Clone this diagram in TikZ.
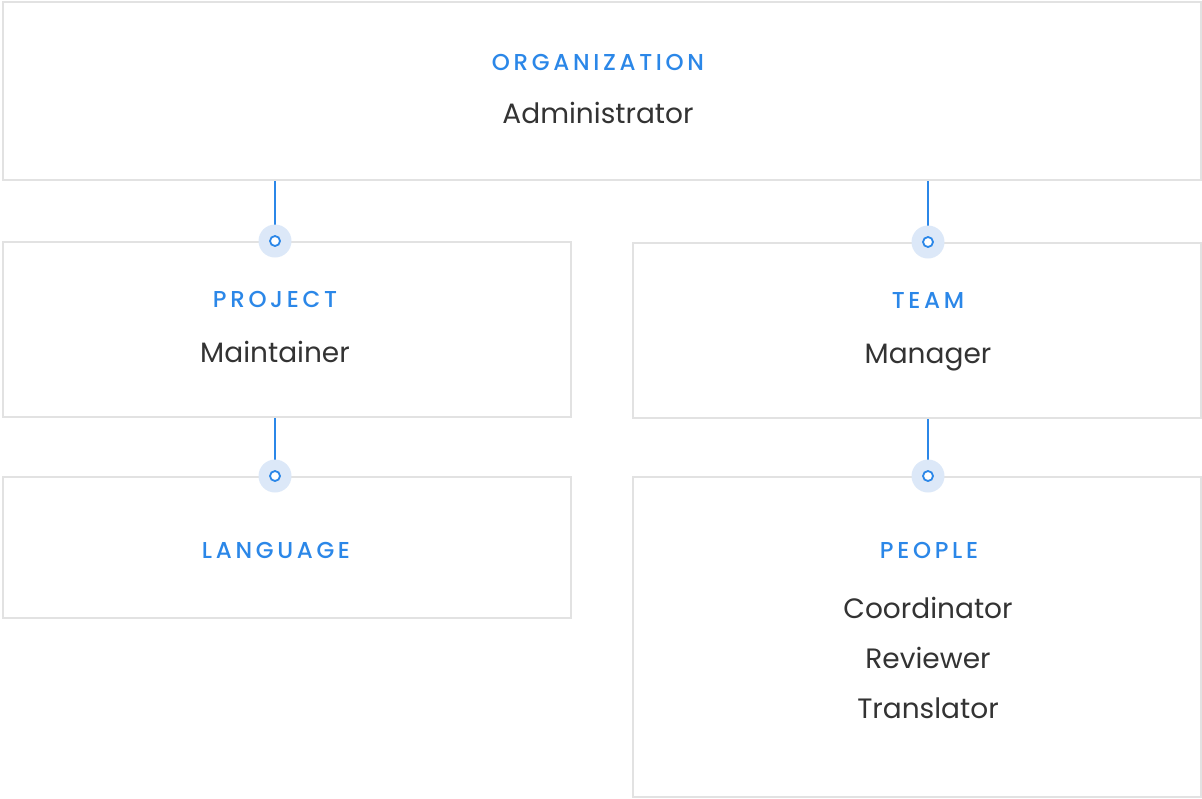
\documentclass[tikz,border=0pt]{standalone}
\usepackage{fontspec}
\setmainfont{Poppins}
\newfontfamily\capfont[LetterSpace=16]{Poppins Medium}
\definecolor{boxgray}{HTML}{E2E2E2}
\definecolor{blueline}{HTML}{2B87E8}
\definecolor{halo}{HTML}{DCE8F8}
\definecolor{txt}{HTML}{333333}
\begin{document}
\begin{tikzpicture}[x=1pt,y=-1pt,
  box/.style={draw=boxgray,line width=2pt,fill=white,anchor=north west,inner sep=0pt},
  title/.style={text=blueline,font=\capfont\fontsize{23}{26}\selectfont,inner sep=0pt,text height=16.1pt,text depth=0pt},
  role/.style={text=txt,font=\fontsize{28}{32}\selectfont,inner sep=0pt,text height=19.6pt,text depth=0pt},
  conn/.style={draw=blueline,line width=2.2pt},
  dothalo/.style={circle,fill=halo,minimum size=33pt,inner sep=0pt},
  dotin/.style={circle,draw=blueline,line width=1.8pt,fill=white,minimum size=10pt,inner sep=0pt}]
\useasboundingbox (0,0) rectangle (1202,798);
% boxes
\node[box,minimum width=1198pt,minimum height=178pt] (org) at (2,1) {};
\node[box,minimum width=568pt,minimum height=175pt] (proj) at (2,241) {};
\node[box,minimum width=568pt,minimum height=175pt] (team) at (632,242) {};
\node[box,minimum width=568pt,minimum height=141pt] (lang) at (2,476) {};
\node[box,minimum width=568pt,minimum height=320pt] (people) at (632,476) {};
% texts
\node[title] (orgt) at (598,62) {ORGANIZATION};
\node[role] (orgr) at (598,114) {Administrator};
\node[title] (projt) at (275,299) {PROJECT};
\node[role] (projr) at (275,353) {Maintainer};
\node[title] (teamt) at (928,300) {TEAM};
\node[role] (teamr) at (928,354) {Manager};
\node[title] (langt) at (276,550) {LANGUAGE};
\node[title] (peot) at (929,550) {PEOPLE};
\node[role] (peo1) at (928,609) {Coordinator};
\node[role] (peo2) at (928,659) {Reviewer};
\node[role] (peo3) at (928,709) {Translator};
% connector anchor points
\coordinate (c1) at (proj.north -| projt);
\coordinate (c2) at (team.north -| teamt);
\coordinate (c3) at (lang.north -| projt);
\coordinate (c4) at (people.north -| teamt);
\draw[conn] (org.south -| projt) -- (c1);
\draw[conn] (org.south -| teamt) -- (c2);
\draw[conn] (proj.south -| projt) -- (c3);
\draw[conn] (team.south -| teamt) -- (c4);
\foreach \c in {c1,c2,c3,c4}{
  \node[dothalo] at (\c) {};
  \node[dotin] at (\c) {};
}
\end{tikzpicture}
\end{document}
